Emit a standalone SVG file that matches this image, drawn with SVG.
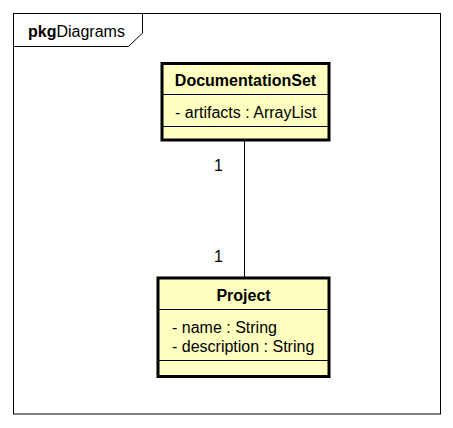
<svg xmlns="http://www.w3.org/2000/svg" width="453" height="428" viewBox="0 0 453 428">
<style>
text{font-family:"Liberation Sans",Arial,sans-serif;font-size:16px;fill:#000}
.b{font-weight:bold}
.cls{fill:#FFFFC0;stroke:#000;stroke-width:3}
.div{stroke:#000;stroke-width:1;fill:none}
.frame{fill:none;stroke:#000;stroke-width:1}
.conn{stroke:#000;stroke-width:1;fill:none}
</style>
<rect width="453" height="428" fill="#fff"/>
<g id="frame">
<rect class="frame" x="13.5" y="13.5" width="427" height="400.5"/>
<polyline class="frame" points="13.5,46.5 128.5,46.5 142.5,33 142.5,13.5"/>
<text x="28" y="37"><tspan class="b">pkg</tspan>Diagrams</text>
</g>
<g id="connectors">
<line class="conn" x1="244.5" y1="140" x2="244.5" y2="278"/>
<text x="214" y="171">1</text>
<text x="214" y="262">1</text>
</g>
<g id="DocumentationSet">
<rect class="cls" x="162" y="63.5" width="167" height="76.5"/>
<line class="div" x1="162" y1="94.5" x2="329" y2="94.5"/>
<line class="div" x1="162" y1="126.5" x2="329" y2="126.5"/>
<text class="b" x="245.5" y="86" text-anchor="middle">DocumentationSet</text>
<text x="175" y="118">- artifacts : ArrayList</text>
</g>
<g id="Project">
<rect class="cls" x="158" y="278" width="171" height="98.5"/>
<line class="div" x1="158" y1="309.5" x2="329" y2="309.5"/>
<line class="div" x1="158" y1="360.5" x2="329" y2="360.5"/>
<text class="b" x="243.5" y="301" text-anchor="middle">Project</text>
<text x="172" y="333">- name : String</text>
<text x="172" y="352">- description : String</text>
</g>
</svg>
